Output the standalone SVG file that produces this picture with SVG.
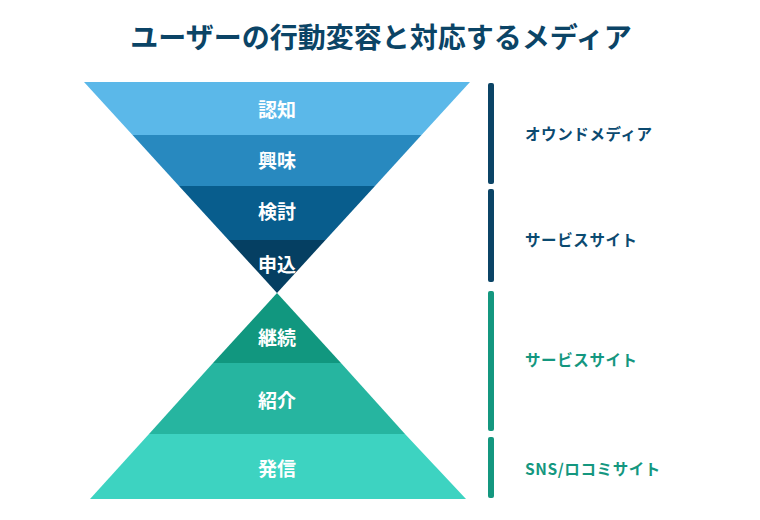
<svg xmlns="http://www.w3.org/2000/svg" width="760" height="520" viewBox="0 0 760 520">
<style>
text{font-family:"Noto Sans CJK JP","Noto Sans",sans-serif;font-weight:700}
.t{fill:#0b4466;font-size:28px;text-anchor:middle}
.s{fill:#ffffff;font-size:19px;text-anchor:middle}
.lb{fill:#0b4a70;font-size:15.5px;letter-spacing:0.6px}
.lg{fill:#14977f;font-size:15.5px;letter-spacing:0.6px}
.bb{fill:#0b4466}
.bg{fill:#14977f}
</style>
<rect width="760" height="520" fill="#ffffff"/>
<text class="t" x="381" y="48">ユーザーの行動変容と対応するメディア</text>
<g id="funnel">
<g id="n1"><polygon points="84,82 470,82 421.5,135 132.5,135" fill="#5bb8e9"/><text class="s" x="277" y="117">認知</text></g>
<g id="n2"><polygon points="132.5,135 421.5,135 375,186 179,186" fill="#2889bf"/><text class="s" x="277" y="168">興味</text></g>
<g id="n3"><polygon points="179,186 375,186 325.5,240 228.5,240" fill="#085d8d"/><text class="s" x="277" y="219">検討</text></g>
<g id="n4"><polygon points="228.5,240 325.5,240 277,293" fill="#053f62"/><text class="s" x="277" y="272">申込</text></g>
</g>
<g id="pyramid">
<g id="n5"><polygon points="277,293 341,363 213,363" fill="#11977f"/><text class="s" x="277" y="345">継続</text></g>
<g id="n6"><polygon points="213,363 341,363 405,434 149,434" fill="#26b5a0"/><text class="s" x="277" y="408">紹介</text></g>
<g id="n7"><polygon points="149,434 405,434 466,499 90,499" fill="#3dd3c1"/><text class="s" x="277" y="476">発信</text></g>
</g>
<g id="connectors">
<rect class="bb" x="488" y="83" width="6" height="101" rx="2"/>
<rect class="bb" x="488" y="189" width="6" height="93" rx="2"/>
<rect class="bg" x="488" y="291" width="6" height="140" rx="2"/>
<rect class="bg" x="488" y="437" width="6" height="61" rx="2"/>
</g>
<g id="labels">
<text class="lb" x="525" y="140">オウンドメディア</text>
<text class="lb" x="525" y="246">サービスサイト</text>
<text class="lg" x="525" y="366">サービスサイト</text>
<text class="lg" x="525" y="475">SNS/ロコミサイト</text>
</g>
</svg>
